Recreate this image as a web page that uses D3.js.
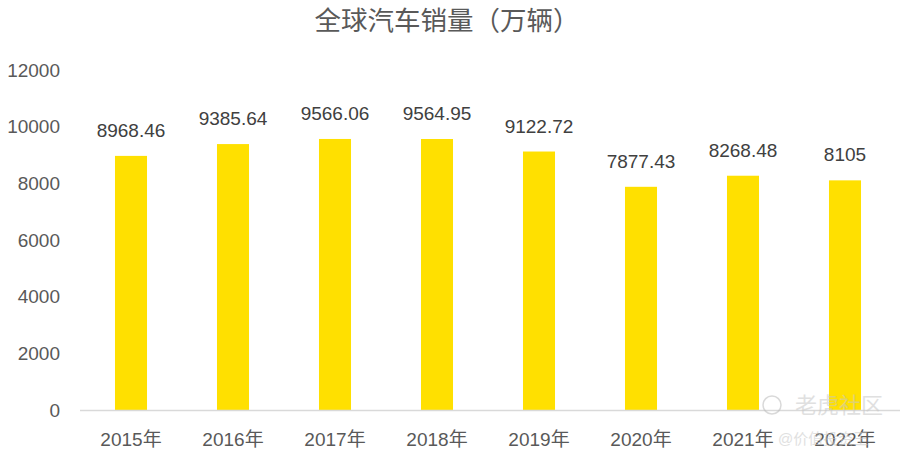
<!DOCTYPE html>
<html><head><meta charset="utf-8">
<script src="https://cdn.jsdelivr.net/npm/d3@7"></script>
<style>
body{margin:0;background:#fff;}
text{font-family:"Liberation Sans","Noto Sans CJK SC",Arial,sans-serif;}
</style></head>
<body><svg id="c" width="905" height="459"></svg>
<script>
const categories = ["2015年","2016年","2017年","2018年","2019年","2020年","2021年","2022年"];
const values = [8968.46, 9385.64, 9566.06, 9564.95, 9122.72, 7877.43, 8268.48, 8105];
const valueLabels = ["8968.46","9385.64","9566.06","9564.95","9122.72","7877.43","8268.48","8105"];
const yTicks = [0, 2000, 4000, 6000, 8000, 10000, 12000];
const title = "全球汽车销量（万辆）";

const svg = d3.select("#c");
const x = d3.scaleBand().domain(categories).range([80, 896]).paddingInner(0.686).paddingOuter(0.343);
const y = d3.scaleLinear().domain([0, 12000]).range([410, 70]);

svg.append("text").attr("x", 447).attr("y", 30).attr("text-anchor", "middle")
  .attr("font-size", 26.5).attr("fill", "#595959").text(title);

// y tick labels
svg.append("g").selectAll("text").data(yTicks).join("text")
  .attr("x", 60).attr("y", d => y(d)).attr("dy", "0.35em").attr("text-anchor", "end")
  .attr("font-size", 19).attr("fill", "#595959").text(d => d);

// bars
svg.append("g").selectAll("rect").data(values).join("rect")
  .attr("x", (d, i) => x(categories[i])).attr("width", x.bandwidth())
  .attr("y", d => y(d)).attr("height", d => y(0) - y(d)).attr("fill", "#FFE000");

// axis line
svg.append("line").attr("x1", 80).attr("x2", 900).attr("y1", y(0) + 0.5).attr("y2", y(0) + 0.5)
  .attr("stroke", "#d9d9d9").attr("stroke-width", 1.3);

// value labels
svg.append("g").selectAll("text").data(values).join("text")
  .attr("x", (d, i) => x(categories[i]) + x.bandwidth() / 2).attr("y", d => y(d) - 19)
  .attr("text-anchor", "middle").attr("font-size", 19).attr("fill", "#404040")
  .text((d, i) => valueLabels[i]);

// x labels
svg.append("g").selectAll("text").data(categories).join("text")
  .attr("x", d => x(d) + x.bandwidth() / 2).attr("y", 446)
  .attr("text-anchor", "middle").attr("font-size", 19).attr("fill", "#595959").text(d => d);

// watermark
const wm = svg.append("g").attr("opacity", 0.55);
wm.append("circle").attr("cx", 772).attr("cy", 405).attr("r", 9).attr("fill", "none").attr("stroke", "#bbb").attr("stroke-width", 1.5);
wm.append("text").attr("x", 795).attr("y", 413).attr("font-size", 22).attr("fill", "#c8c8c8").text("老虎社区");
wm.append("text").attr("x", 778).attr("y", 444).attr("font-size", 15).attr("fill", "#c8c8c8").text("@价值投资王");
</script></body></html>
